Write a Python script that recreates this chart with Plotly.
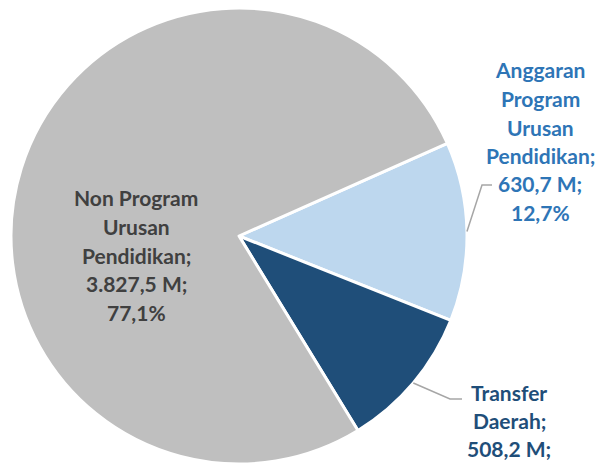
import math
import plotly.graph_objects as go

labels = ["Anggaran Program Urusan Pendidikan", "Transfer Daerah", "Non Program Urusan Pendidikan"]
values = [630.7, 508.2, 3827.5]
value_text = ["630,7 M;", "508,2 M;", "3.827,5 M;"]
pct_text = ["12,7%", "", "77,1%"]  # Transfer's 10,2% lies below the visible frame
label_lines = [["Anggaran", "Program", "Urusan", "Pendidikan;"],
               ["Transfer", "Daerah;"],
               ["Non Program", "Urusan", "Pendidikan;"]]
colors = ["#BDD7EE", "#1F4E79", "#BFBFBF"]
text_colors = ["#2E75B6", "#1F4E79", "#404040"]

# page body has an 8px margin; figure is sized to fit the window exactly
OFF = 8
W, H = 603 - OFF, 465 - OFF
cx, cy, r = 239 - OFF, 236 - OFF, 228
rotation = 66

fig = go.Figure(go.Pie(
    labels=labels, values=values, sort=False, direction="clockwise",
    rotation=rotation, textinfo="none", hoverinfo="label+value+percent",
    marker=dict(colors=colors, line=dict(color="white", width=3)),
    domain=dict(x=[(cx - r) / W, (cx + r) / W], y=[(H - cy - r) / H, (H - cy + r) / H]),
    showlegend=False,
))

def px(x, y):
    # x, y given in window pixels
    return (x - OFF) / W, 1 - (y - OFF) / H

# (center x, first line y, line spacing) in window pixels
label_pos = [(540, 70, 28.5), (509, 392, 28), (136, 198, 28.5)]
font = "Lato, 'Open Sans', sans-serif"
for i in range(3):
    lines = label_lines[i] + [value_text[i]] + ([pct_text[i]] if pct_text[i] else [])
    x0, y0, dy = label_pos[i]
    for k, line in enumerate(lines):
        x, y = px(x0, y0 + k * dy)
        fig.add_annotation(x=x, y=y, xref="paper", yref="paper", text="<b>" + line + "</b>",
                           showarrow=False, xanchor="center", yanchor="middle", align="center",
                           font=dict(family=font, size=21, color=text_colors[i]))

# leader lines from slice mid-angle on the rim to labels
total = sum(values)
cum = 0
mids = []
for v in values:
    mids.append(rotation + 360 * (cum + v / 2) / total)
    cum += v
elbows = [((482, 185), (492, 185)), ((450, 399), (462, 399))]
for i in range(2):
    a = math.radians(mids[i])
    sx, sy = cx + OFF + r * math.sin(a), cy + OFF - r * math.cos(a)
    (ex, ey), (hx, hy) = elbows[i]
    p = [px(sx, sy), px(ex, ey), px(hx, hy)]
    path = "M {} {} L {} {} L {} {}".format(p[0][0], p[0][1], p[1][0], p[1][1], p[2][0], p[2][1])
    fig.add_shape(type="path", path=path, xref="paper", yref="paper",
                  line=dict(color="#A6A6A6", width=1.5))

fig.update_layout(width=W, height=H, margin=dict(l=0, r=0, t=0, b=0),
                  paper_bgcolor="white", plot_bgcolor="white")
fig.write_html("out.html")
